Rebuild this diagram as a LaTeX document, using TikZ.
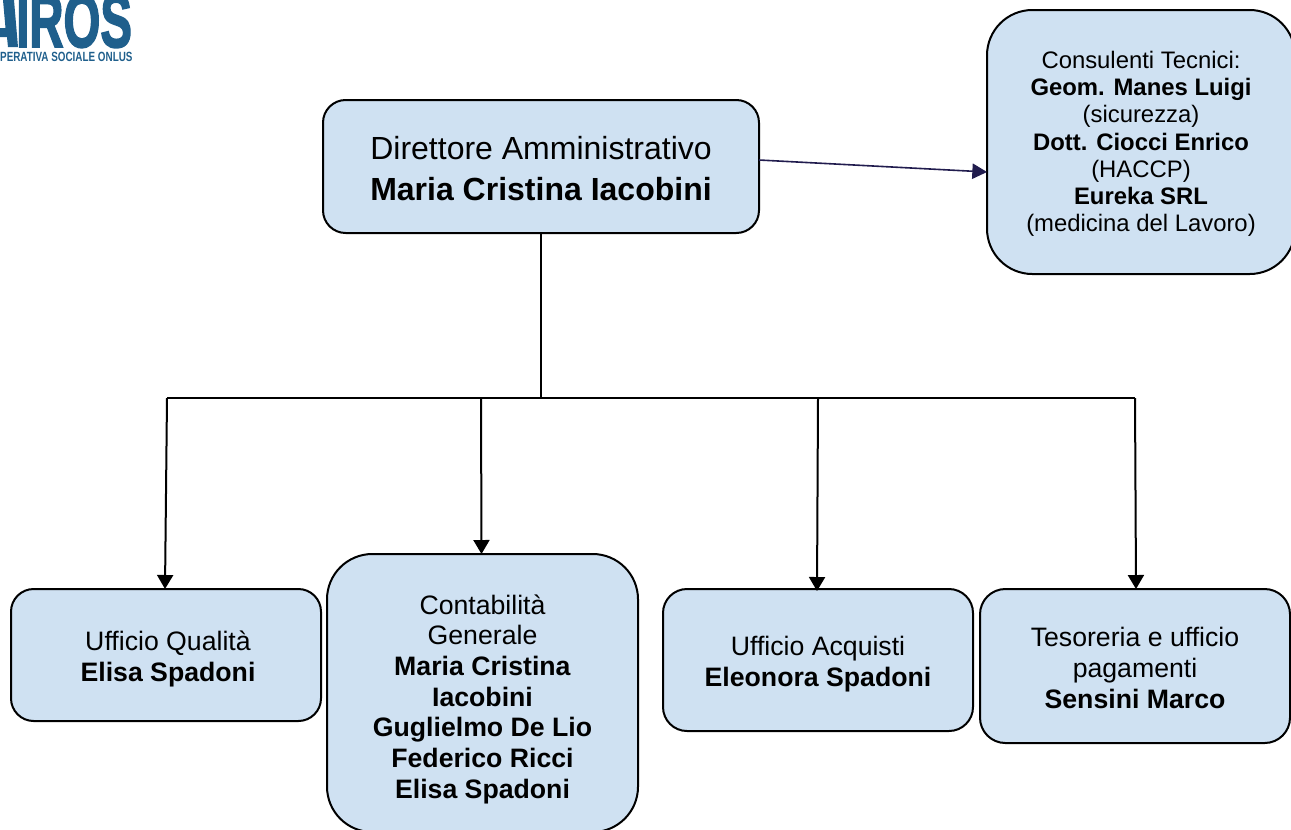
\documentclass[tikz,border=0pt]{standalone}
\usepackage{fontspec}
\setmainfont{Liberation Sans}
\newfontfamily\logofont[BoldFeatures={FakeBold=2.5}]{Liberation Sans}
\usetikzlibrary{arrows.meta,calc}
\definecolor{boxfill}{HTML}{CFE1F2}
\definecolor{logoblue}{HTML}{1F5F8C}
\definecolor{navyline}{HTML}{211C4E}
\newcommand{\fmain}{\fontsize{24}{30.7}\selectfont}
\newcommand{\fmid}{\fontsize{20}{23}\selectfont}
\newcommand{\fsmall}{\fontsize{17.9}{20.4}\selectfont}
\tikzset{
  x=0.75pt,y=-0.75pt,
  orgbox/.style={draw=black,line width=1.5pt,fill=boxfill,inner sep=0pt,outer sep=0pt},
  boxtext/.style={align=center,inner sep=0pt,text=black},
  link/.style={draw=black,line width=1.5pt},
  linkarrow/.style={link,-{Triangle[length=10.5pt,width=12pt]}},
  navyarrow/.style={draw=navyline,line width=1.2pt,-{Triangle[length=11pt,width=11.5pt]}},
}
\begin{document}
\begin{tikzpicture}
\useasboundingbox (0,0) rectangle (1291,829);
\clip (0,0) rectangle (1291,829);
% logo
\node[anchor=west,inner sep=0pt,text=logoblue,xscale=0.74,yscale=1.18,font=\fontsize{48}{48}\logofont\bfseries] (logo) at (16,21) {IROS};
\fill[logoblue] (3,0) -- (14,0) -- (18,47) -- (8,47) -- (7,37) -- (0,37) -- (0,28) -- (5.5,28) -- cycle;
\node[anchor=west,inner sep=0pt,text=logoblue,xscale=0.74,font=\fontsize{10}{10}\selectfont\bfseries] (logosub) at (0,57) {PERATIVA SOCIALE ONLUS};
% boxes
\node[orgbox,rounded corners=17pt,minimum width=327pt,minimum height=99.75pt] (main) at (541,166.5) {};
\node[boxtext,font=\fmain] (maintext) at (541,169) {Direttore Amministrativo\\\textbf{Maria Cristina Iacobini}};
\node[orgbox,rounded corners=34pt,minimum width=231pt,minimum height=198pt] (cons) at (1141,142) {};
\node[boxtext,font=\fsmall] (constext) at (1141,144) {Consulenti Tecnici:\\\textbf{Geom. Manes Luigi}\\(sicurezza)\\\textbf{Dott. Ciocci Enrico}\\(HACCP)\\\textbf{Eureka SRL}\\(medicina del Lavoro)};
\node[orgbox,rounded corners=17pt,minimum width=232.5pt,minimum height=99pt] (qual) at (166,655) {};
\node[boxtext,font=\fmid] (qualtext) at (168,659) {Ufficio Qualità\\\textbf{Elisa Spadoni}};
\node[orgbox,rounded corners=34pt,minimum width=233.25pt,minimum height=208.5pt] (cont) at (482.5,693) {};
\node[boxtext,font=\fmid] (conttext) at (482.5,699) {Contabilità\\Generale\\\textbf{Maria Cristina}\\\textbf{Iacobini}\\\textbf{Guglielmo De Lio}\\\textbf{Federico Ricci}\\\textbf{Elisa Spadoni}};
\node[orgbox,rounded corners=18pt,minimum width=232.5pt,minimum height=106.5pt] (acq) at (818,660) {};
\node[boxtext,font=\fmid] (acqtext) at (818,664) {Ufficio Acquisti\\\textbf{Eleonora Spadoni}};
\node[orgbox,rounded corners=19pt,minimum width=232.5pt,minimum height=115.5pt] (tes) at (1135,666) {};
\node[boxtext,font=\fmid] (testext) at (1135,668) {Tesoreria e ufficio\\pagamenti\\\textbf{Sensini Marco}};
% connectors
\coordinate (trunk) at (main.south |- 0,398);
\coordinate (busL) at (167,398);
\coordinate (busB) at (481,398);
\coordinate (busC) at (818,398);
\coordinate (busR) at (1135,398);
\draw[link] (main.south) -- (trunk);
\draw[link] (busL) -- (busR);
\draw[linkarrow] (busL) -- ($(qual.north)+(-1,0)$);
\draw[linkarrow] (busB) -- ($(cont.north)+(-1,0)$);
\draw[linkarrow] (busC) -- ($(acq.north)+(-1,2)$);
\draw[linkarrow] (busR) -- ($(tes.north)+(1,0)$);
\draw[navyarrow] ($(main.east)+(0,-6.5)$) -- ($(cons.west)+(0,30)$);
\end{tikzpicture}
\end{document}
